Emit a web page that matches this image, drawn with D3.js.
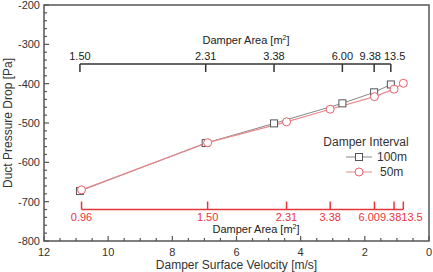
<!DOCTYPE html>
<html>
<head>
<meta charset="utf-8">
<script src="https://cdn.jsdelivr.net/npm/d3@7"></script>
<style>
  body { margin: 0; background: #fff; }
  text { font-family: "Liberation Sans", Arial, sans-serif; }
</style>
</head>
<body>
<div id="chart"></div>
<script>
// velocity [m/s] and pressure drop [Pa] for each damper interval
const vel100 = [10.88, 6.96, 4.83, 2.70, 1.71, 1.19];
const dp100 = [-673, -551, -501, -450, -422, -402];
const vel50 = [10.83, 6.90, 4.44, 3.08, 1.70, 1.09, 0.80];
const dp50 = [-670, -550, -497, -465, -433, -414, -399];
// damper area labels (same order as points)
const area100 = ["1.50", "2.31", "3.38", "6.00", "9.38", "13.5"];
const area50 = ["0.96", "1.50", "2.31", "3.38", "6.00", "9.38", "13.5"];

const width = 433, height = 272;
const plotL = 44, plotR = 429, plotT = 5, plotB = 241;
const frameColor = "#555";
const red = "#e8343c";

const svg = d3.select("#chart").append("svg")
  .attr("width", width)
  .attr("height", height);

const x = d3.scaleLinear().domain([12, 0]).range([plotL, plotR]);
const y = d3.scaleLinear().domain([-800, -200]).range([plotB, plotT]);

// push crowded labels apart: overlapping ones are laid side by side,
// centred on the mean of their tick positions
function spreadLabels(sel, gap) {
  const items = [];
  sel.each(function() {
    items.push({ node: this, x: +this.getAttribute("x"), w: this.getComputedTextLength() });
  });
  items.sort((a, b) => a.x - b.x);
  let groups = items.map(it => ({ members: [it], target: it.x }));
  const layout = g => {
    const total = d3.sum(g.members, m => m.w) + gap * (g.members.length - 1);
    g.start = g.target - total / 2;
    g.end = g.start + total;
  };
  groups.forEach(layout);
  let merged = true;
  while (merged) {
    merged = false;
    for (let i = 0; i < groups.length - 1; i++) {
      if (groups[i].end > groups[i + 1].start) {
        const m = groups[i].members.concat(groups[i + 1].members);
        const g = { members: m, target: d3.mean(m, d => d.x) };
        layout(g);
        groups.splice(i, 2, g);
        merged = true;
        break;
      }
    }
  }
  groups.forEach(g => {
    let cx = g.start;
    g.members.forEach(m => {
      m.node.setAttribute("x", cx + m.w / 2);
      cx += m.w + gap;
    });
  });
}

// bottom axis ticks (inward)
svg.append("g").selectAll("line")
  .data(d3.range(0, 12.01, 0.5))
  .enter().append("line")
  .attr("x1", d => x(d)).attr("x2", d => x(d))
  .attr("y1", plotB)
  .attr("y2", d => d % 2 === 0 ? plotB - 5 : plotB - 3)
  .attr("stroke", frameColor).attr("stroke-width", 1.2);

svg.append("g").selectAll("text")
  .data(d3.range(0, 12.01, 2))
  .enter().append("text")
  .attr("x", d => x(d)).attr("y", plotB + 15)
  .attr("text-anchor", "middle")
  .attr("font-size", 11).attr("fill", "#333")
  .text(d => d);

// left axis ticks (inward)
svg.append("g").selectAll("line")
  .data(d3.range(-800, -199, 20))
  .enter().append("line")
  .attr("y1", d => y(d)).attr("y2", d => y(d))
  .attr("x1", plotL)
  .attr("x2", d => d % 100 === 0 ? plotL + 5 : plotL + 3)
  .attr("stroke", frameColor).attr("stroke-width", 1.2);

svg.append("g").selectAll("text")
  .data(d3.range(-800, -199, 100))
  .enter().append("text")
  .attr("x", plotL - 4).attr("y", d => y(d) + 4)
  .attr("text-anchor", "end")
  .attr("font-size", 11).attr("fill", "#333")
  .text(d => d);

// frame
svg.append("rect")
  .attr("x", plotL).attr("y", plotT)
  .attr("width", plotR - plotL).attr("height", plotB - plotT)
  .attr("fill", "none").attr("stroke", frameColor).attr("stroke-width", 1.5);

// axis titles
svg.append("text")
  .attr("x", (plotL + plotR) / 2).attr("y", height - 3)
  .attr("text-anchor", "middle").attr("font-size", 12).attr("fill", "#333")
  .text("Damper Surface Velocity [m/s]");

svg.append("text")
  .attr("transform", `translate(12,${(plotT + plotB) / 2}) rotate(-90)`)
  .attr("text-anchor", "middle").attr("font-size", 12).attr("fill", "#333")
  .text("Duct Pressure Drop [Pa]");

// top secondary axis (100m damper areas)
const topAxisY = y(-350);
svg.append("line")
  .attr("x1", x(vel100[0])).attr("x2", x(vel100[vel100.length - 1]))
  .attr("y1", topAxisY).attr("y2", topAxisY)
  .attr("stroke", "#333").attr("stroke-width", 1.5);
svg.append("g").selectAll("line")
  .data(vel100)
  .enter().append("line")
  .attr("x1", d => x(d)).attr("x2", d => x(d))
  .attr("y1", topAxisY).attr("y2", topAxisY + 8)
  .attr("stroke", "#333").attr("stroke-width", 1.5);
const topLabels = svg.append("g").selectAll("text")
  .data(vel100)
  .enter().append("text")
  .attr("x", d => x(d)).attr("y", topAxisY - 4)
  .attr("text-anchor", "middle").attr("font-size", 11).attr("fill", "#222")
  .text((d, i) => area100[i]);
spreadLabels(topLabels, 3);
const topTitle = svg.append("text")
  .attr("x", 246).attr("y", topAxisY - 20)
  .attr("text-anchor", "middle").attr("font-size", 11).attr("fill", "#222");
topTitle.append("tspan").text("Damper Area [m");
topTitle.append("tspan").attr("font-size", 7).attr("dy", -4).text("2");
topTitle.append("tspan").attr("dy", 4).text("]");

// bottom secondary axis (50m damper areas)
const botAxisY = y(-720);
svg.append("line")
  .attr("x1", x(vel50[0])).attr("x2", x(vel50[vel50.length - 1]))
  .attr("y1", botAxisY).attr("y2", botAxisY)
  .attr("stroke", red).attr("stroke-width", 1.5);
svg.append("g").selectAll("line")
  .data(vel50)
  .enter().append("line")
  .attr("x1", d => x(d)).attr("x2", d => x(d))
  .attr("y1", botAxisY).attr("y2", botAxisY - 8)
  .attr("stroke", red).attr("stroke-width", 1.5);
const botLabels = svg.append("g").selectAll("text")
  .data(vel50)
  .enter().append("text")
  .attr("x", d => x(d)).attr("y", botAxisY + 11)
  .attr("text-anchor", "middle").attr("font-size", 11).attr("fill", red)
  .text((d, i) => area50[i]);
spreadLabels(botLabels, 0);
const botTitle = svg.append("text")
  .attr("x", 256).attr("y", botAxisY + 23)
  .attr("text-anchor", "middle").attr("font-size", 11).attr("fill", "#222");
botTitle.append("tspan").text("Damper Area [m");
botTitle.append("tspan").attr("font-size", 7).attr("dy", -4).text("2");
botTitle.append("tspan").attr("dy", 4).text("]");

// series lines
const line = d3.line().x(d => x(d[0])).y(d => y(d[1]));
svg.append("path")
  .datum(d3.zip(vel100, dp100))
  .attr("d", line)
  .attr("fill", "none").attr("stroke", "#888").attr("stroke-width", 1);
svg.append("path")
  .datum(d3.zip(vel50, dp50))
  .attr("d", line)
  .attr("fill", "none").attr("stroke", "#e88a8e").attr("stroke-width", 1.2);

// markers
svg.append("g").selectAll("rect")
  .data(d3.zip(vel100, dp100))
  .enter().append("rect")
  .attr("x", d => x(d[0]) - 3.5).attr("y", d => y(d[1]) - 3.5)
  .attr("width", 7).attr("height", 7)
  .attr("fill", "#fff").attr("stroke", "#555").attr("stroke-width", 1);
svg.append("g").selectAll("circle")
  .data(d3.zip(vel50, dp50))
  .enter().append("circle")
  .attr("cx", d => x(d[0])).attr("cy", d => y(d[1]))
  .attr("r", 4)
  .attr("fill", "#fff").attr("stroke", "#e8606a").attr("stroke-width", 1);

// legend
const legend = svg.append("g");
legend.append("text")
  .attr("x", 366).attr("y", 146)
  .attr("text-anchor", "middle").attr("font-size", 12).attr("fill", "#333")
  .text("Damper Interval");
legend.append("line")
  .attr("x1", 346).attr("x2", 372).attr("y1", 157).attr("y2", 157)
  .attr("stroke", "#888");
legend.append("rect")
  .attr("x", 355.5).attr("y", 153.5).attr("width", 7).attr("height", 7)
  .attr("fill", "#fff").attr("stroke", "#555");
legend.append("text")
  .attr("x", 377).attr("y", 161)
  .attr("font-size", 12).attr("fill", "#333").text("100m");
legend.append("line")
  .attr("x1", 346).attr("x2", 372).attr("y1", 172).attr("y2", 172)
  .attr("stroke", "#e88a8e");
legend.append("circle")
  .attr("cx", 359).attr("cy", 172).attr("r", 4)
  .attr("fill", "#fff").attr("stroke", "#e8606a");
legend.append("text")
  .attr("x", 380).attr("y", 176)
  .attr("font-size", 12).attr("fill", "#333").text("50m");
</script>
</body>
</html>
